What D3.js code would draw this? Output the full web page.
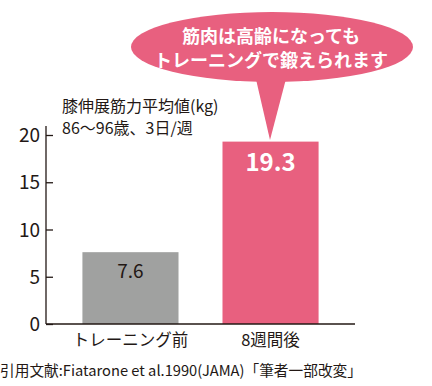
<!DOCTYPE html>
<html>
<head>
<meta charset="utf-8">
<script src="https://cdn.jsdelivr.net/npm/d3@7"></script>
<style>
body{margin:0;background:#fff;}
svg text{font-family:"Noto Sans CJK JP","Noto Sans",sans-serif;}
</style>
</head>
<body>
<svg id="chart" width="432" height="386"></svg>
<script>
var categories=["トレーニング前","8週間後"];
var values=[7.6,19.3];
var tick_values=[0,5,10,15,20];
var bar_colors=["#a0a1a0","#e8607f"];

var svg=d3.select("#chart");
var ink="#231815";

var x=d3.scaleBand().domain(categories).range([46,355]).paddingInner(0.314).paddingOuter(0.26);
var y=d3.scaleLinear().domain([0,20]).range([324,135]);

// speech bubble
var pink="#e8607f";
svg.append("ellipse").attr("cx",272).attr("cy",47).attr("rx",141).attr("ry",35).attr("fill",pink);
svg.append("path").attr("d","M255,75 L287,75 L270,140 Z").attr("fill",pink);
svg.append("text").attr("x",271).attr("y",43).attr("text-anchor","middle")
    .attr("font-size",18).attr("font-weight","bold").attr("fill","#fff").text("筋肉は高齢になっても");
svg.append("text").attr("x",271).attr("y",67).attr("text-anchor","middle")
    .attr("font-size",18).attr("font-weight","bold").attr("fill","#fff").text("トレーニングで鍛えられます");

// bars
svg.selectAll(".bar").data(values).enter().append("rect")
    .attr("class","bar")
    .attr("x",function(d,i){return x(categories[i])})
    .attr("width",x.bandwidth())
    .attr("y",function(d){return y(d)})
    .attr("height",function(d){return y(0)-y(d)})
    .attr("fill",function(d,i){return bar_colors[i]});

// bar labels
svg.selectAll(".val").data(values).enter().append("text")
    .attr("class","val")
    .attr("x",function(d,i){return x(categories[i])+x.bandwidth()/2})
    .attr("y",function(d,i){return i==0 ? y(d)+26 : y(d)+29})
    .attr("text-anchor","middle")
    .attr("font-size",function(d,i){return i==0?19:24})
    .attr("font-weight",function(d,i){return i==0?"normal":"bold"})
    .attr("fill",function(d,i){return i==0?ink:"#fff"})
    .text(function(d){return d.toFixed(1)});

// axes
var yAxis=d3.axisRight(y).tickValues(tick_values).tickSize(7).tickFormat("");
var gy=svg.append("g").attr("transform","translate(46,0)").call(yAxis);
gy.select(".domain").attr("d","M0,126V324").attr("stroke",ink).attr("stroke-width",1.3);
gy.selectAll(".tick line").attr("stroke",ink).attr("stroke-width",1.3);

svg.selectAll(".ytl").data(tick_values).enter().append("text")
    .attr("class","ytl")
    .attr("x",40).attr("y",function(d){return y(d)+7})
    .attr("text-anchor","end").attr("font-size",19).attr("fill",ink)
    .text(function(d){return d});

svg.append("line").attr("x1",46).attr("x2",355).attr("y1",324).attr("y2",324)
    .attr("stroke",ink).attr("stroke-width",1.3);

svg.selectAll(".cat").data(categories).enter().append("text")
    .attr("class","cat")
    .attr("x",function(d){return x(d)+x.bandwidth()/2})
    .attr("y",346).attr("text-anchor","middle").attr("font-size",16.5).attr("fill",ink)
    .text(function(d){return d});

// title
svg.append("text").attr("x",62).attr("y",112).attr("font-size",16).attr("fill",ink).text("膝伸展筋力平均値(kg)");
svg.append("text").attr("x",62).attr("y",134).attr("font-size",16).attr("fill",ink).text("86〜96歳、3日/週");

// source
svg.append("text").attr("x",0).attr("y",376).attr("font-size",14.7).attr("fill",ink)
    .text("引用文献:Fiatarone et al.1990(JAMA)「筆者一部改変」");
</script>
</body>
</html>
